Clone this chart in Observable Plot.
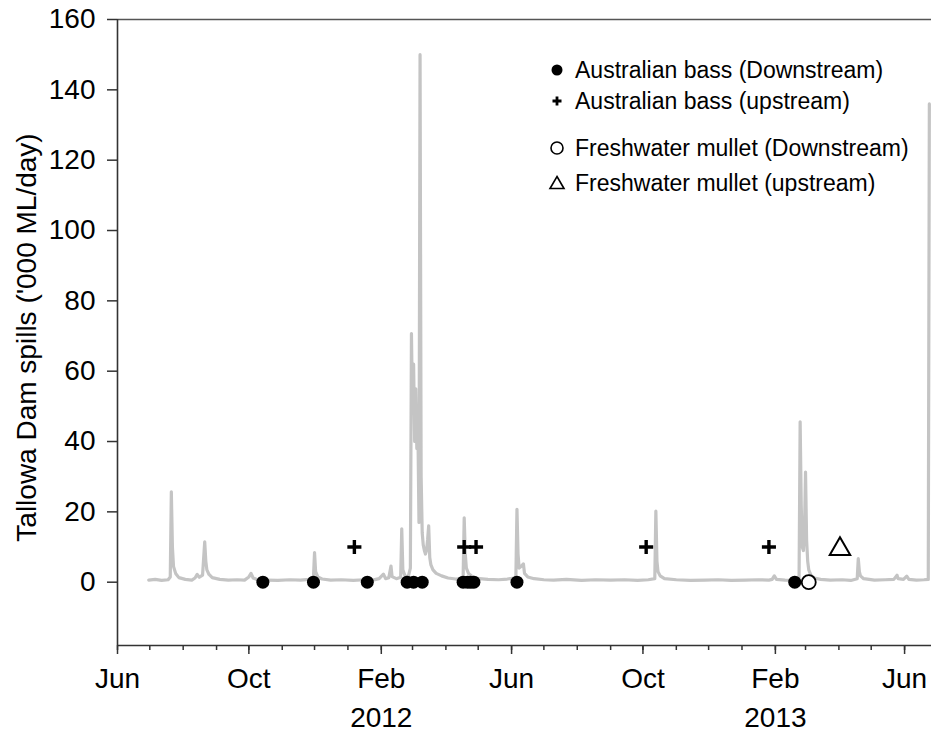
<!DOCTYPE html>
<html>
<head>
<meta charset="utf-8">
<script src="https://cdn.jsdelivr.net/npm/d3@7"></script>
<script src="https://cdn.jsdelivr.net/npm/@observablehq/plot@0.6"></script>
<style>
  html, body { margin: 0; padding: 0; background: #fff; }
  #chart { position: relative; width: 931px; height: 735px; }
</style>
</head>
<body>
<div id="chart"></div>
<script>
// ---- Data ----
const flowDates = [
  "2011-06-30","2011-07-06","2011-07-12","2011-07-18","2011-07-20","2011-07-21","2011-07-22","2011-07-23","2011-07-25","2011-07-28",
  "2011-08-03","2011-08-09","2011-08-12","2011-08-14","2011-08-16","2011-08-19","2011-08-21","2011-08-22","2011-08-23","2011-08-25",
  "2011-08-28","2011-09-04","2011-09-12","2011-09-20","2011-09-27","2011-10-01","2011-10-03","2011-10-05","2011-10-09","2011-10-18",
  "2011-10-28","2011-11-08","2011-11-18","2011-11-26","2011-11-30","2011-12-01","2011-12-02","2011-12-04","2011-12-08","2011-12-16",
  "2011-12-26","2012-01-06","2012-01-16","2012-01-24","2012-01-30","2012-02-03","2012-02-05","2012-02-08","2012-02-10","2012-02-11",
  "2012-02-15","2012-02-19","2012-02-20","2012-02-21","2012-02-23","2012-02-26","2012-02-28","2012-02-29","2012-03-01","2012-03-02",
  "2012-03-03","2012-03-04","2012-03-05","2012-03-06","2012-03-07","2012-03-08","2012-03-09","2012-03-10","2012-03-11","2012-03-12",
  "2012-03-13","2012-03-14","2012-03-15","2012-03-16","2012-03-17","2012-03-18","2012-03-20","2012-03-23","2012-03-28","2012-04-03",
  "2012-04-10","2012-04-16","2012-04-17","2012-04-18","2012-04-19","2012-04-20","2012-04-22","2012-04-26","2012-05-02","2012-05-10",
  "2012-05-20","2012-05-28","2012-06-04","2012-06-05","2012-06-06","2012-06-07","2012-06-08","2012-06-10","2012-06-12","2012-06-13",
  "2012-06-16","2012-06-22","2012-07-01","2012-07-10","2012-07-22","2012-08-05","2012-08-18","2012-09-01","2012-09-14","2012-09-26",
  "2012-10-06","2012-10-12","2012-10-13","2012-10-14","2012-10-15","2012-10-17","2012-10-21","2012-11-01","2012-11-14","2012-11-28",
  "2012-12-10","2012-12-22","2013-01-04","2013-01-16","2013-01-26","2013-01-29","2013-01-31","2013-02-02","2013-02-10","2013-02-18",
  "2013-02-23","2013-02-24","2013-02-25","2013-02-26","2013-02-27","2013-02-28","2013-03-01","2013-03-02","2013-03-03","2013-03-04",
  "2013-03-06","2013-03-09","2013-03-15","2013-03-24","2013-04-04","2013-04-12","2013-04-18","2013-04-19","2013-04-20","2013-04-21",
  "2013-04-24","2013-05-04","2013-05-14","2013-05-22","2013-05-25","2013-05-26","2013-05-31","2013-06-03","2013-06-05","2013-06-12",
  "2013-06-19","2013-06-23","2013-06-24"
];
const flowValues = [
  0.6,0.8,0.5,0.7,1.5,25.7,10,4.5,2.5,1.3,
  0.8,0.6,1.2,2.2,1.4,2.0,11.5,6,3.5,2.2,
  1.3,0.8,0.6,0.7,0.6,1.5,2.5,1.2,0.7,0.6,
  0.5,0.7,0.6,0.8,1.5,8.4,3,1.5,0.9,0.6,
  0.7,0.5,0.7,0.6,1.0,2.3,1.0,1.3,4.6,1.6,
  1.0,1.4,15.2,3.5,1.8,1.5,4,70.7,48,62,
  40,55,38,44,17,150,30,14,10.5,9,
  8,9,12,16,7,5,3.5,2.5,1.8,1.2,
  0.9,1.0,1.5,18.3,8,4,2.5,1.5,1.0,0.8,
  0.7,0.9,1.2,1.6,20.7,8,4,4.5,5.2,2.5,
  1.5,1.0,0.7,0.6,0.8,0.5,0.7,0.6,0.7,0.5,
  0.7,1.0,20.2,6,3,1.8,1.0,0.7,0.5,0.6,
  0.7,0.5,0.6,0.7,0.6,0.8,1.8,0.8,0.6,0.5,
  0.8,45.6,22,10,9,14,31.3,12,6,3.5,
  2,1.2,0.8,0.6,0.7,0.5,1.0,6.7,3,1.8,
  1.0,0.6,0.7,0.8,2.0,1.0,0.8,1.7,0.8,0.6,
  0.7,0.8,136
];

const bassDownDates = ["2011-10-14","2011-11-30","2012-01-19","2012-02-25","2012-03-02","2012-03-10",
                       "2012-04-17","2012-04-21","2012-04-24","2012-04-27","2012-06-06","2013-02-19"];
const bassDownValue = 0;
const bassUpDates = ["2012-01-07","2012-04-18","2012-04-29","2012-10-04","2013-01-26"];
const bassUpValue = 10;
const mulletDownDates = ["2013-03-04"];
const mulletDownValue = 0;
const mulletUpDates = ["2013-04-02"];
const mulletUpValue = 10;

const legendLabels = [
  "Australian bass (Downstream)",
  "Australian bass (upstream)",
  "Freshwater mullet (Downstream)",
  "Freshwater mullet (upstream)"
];

const yTicks = [0, 20, 40, 60, 80, 100, 120, 140, 160];
const yDomain = [-18, 160];
const xDomain = ["2011-06-01", "2013-06-26"];
const majorTicks = ["2011-06-01","2011-10-01","2012-02-01","2012-06-01","2012-10-01","2013-02-01","2013-06-01"];
const yearTicks = ["2012-02-01","2013-02-01"];
const yTitle = "Tallowa Dam spills ('000 ML/day)";

// ---- Build tables ----
const parse = d3.utcParse("%Y-%m-%d");
const flow = flowDates.map((d, i) => ({date: parse(d), value: flowValues[i]}));
const pts = (dates, v) => dates.map(d => ({date: parse(d), value: v}));
const bassDown = pts(bassDownDates, bassDownValue);
const bassUp = pts(bassUpDates, bassUpValue);
const mulletDown = pts(mulletDownDates, mulletDownValue);
const mulletUp = pts(mulletUpDates, mulletUpValue);
const xDom = xDomain.map(parse);

const font = "'Liberation Sans', Arial, Helvetica, sans-serif";

const chart = Plot.plot({
  width: 931,
  height: 735,
  marginLeft: 117,
  marginRight: 0,
  marginTop: 19,
  marginBottom: 90,
  style: {fontFamily: font, color: "#000", background: "#fff", overflow: "visible"},
  x: {type: "utc", domain: xDom},
  y: {domain: yDomain},
  marks: [
    Plot.line(flow, {x: "date", y: "value", stroke: "#c4c4c4", strokeWidth: 3.2, strokeLinejoin: "round", curve: "linear"}),
    Plot.ruleY([yDomain[1]], {stroke: "#555", strokeWidth: 1.6}),
    Plot.ruleY([yDomain[0]], {stroke: "#333", strokeWidth: 1.6}),
    Plot.ruleX([xDom[0]], {stroke: "#333", strokeWidth: 1.6}),
    Plot.axisY({ticks: yTicks, tickSize: 10, tickPadding: 12, fontSize: 28, label: null, stroke: "#333", strokeWidth: 1.5}),
    Plot.text([yTitle], {text: d => d, frameAnchor: "left", rotate: -90, dx: -90, dy: 5, fontSize: 28, textAnchor: "middle", fill: "#000"}),
    Plot.axisX({ticks: d3.utcMonth.every(1), tickSize: 5, tickFormat: () => "", label: null, stroke: "#333", strokeWidth: 1.5}),
    Plot.axisX({ticks: majorTicks.map(parse), tickSize: 9, tickPadding: 14, tickFormat: d3.utcFormat("%b"), fontSize: 28, label: null, stroke: "#333", strokeWidth: 1.5}),
    Plot.axisX({ticks: yearTicks.map(parse), tickSize: 0, tickPadding: 62, tickFormat: d3.utcFormat("%Y"), fontSize: 28, label: null}),
    Plot.dot(bassDown, {x: "date", y: "value", r: 6.5, fill: "#000", stroke: "none"}),
    Plot.dot(bassUp, {x: "date", y: "value", symbol: "plus", r: 4.6, stroke: "#000", strokeWidth: 3.4}),
    Plot.dot(mulletDown, {x: "date", y: "value", r: 7, fill: "#fff", stroke: "#000", strokeWidth: 1.8}),
    Plot.dot(mulletUp, {x: "date", y: "value", symbol: "triangle", r: 7.6, fill: "none", stroke: "#000", strokeWidth: 2, dy: 2})
  ]
});
document.getElementById("chart").appendChild(chart);

// ---- Legend (drawn inside the chart SVG) ----
const svg = d3.select(chart);
const legendRows = [70, 101, 148, 183];
const g = svg.append("g").attr("font-family", font).attr("font-size", 23).attr("text-anchor", "start");
legendLabels.forEach((label, i) => {
  const cy = legendRows[i];
  const row = g.append("g").attr("transform", `translate(557,${cy})`);
  if (i === 0) row.append("circle").attr("r", 5.5).attr("fill", "#000");
  if (i === 1) row.append("path").attr("d", "M-4.5,0H4.5M0,-4.5V4.5").attr("stroke", "#000").attr("stroke-width", 2.8);
  if (i === 2) row.append("circle").attr("r", 6).attr("fill", "#fff").attr("stroke", "#000").attr("stroke-width", 1.6);
  if (i === 3) row.append("path").attr("d", "M0,-6.5L7,5.5H-7Z").attr("fill", "none").attr("stroke", "#000").attr("stroke-width", 1.6);
  row.append("text").attr("x", 18).attr("y", 0).attr("dy", "0.35em").attr("text-anchor", "start").attr("fill", "#000").text(label);
});
</script>
</body>
</html>
